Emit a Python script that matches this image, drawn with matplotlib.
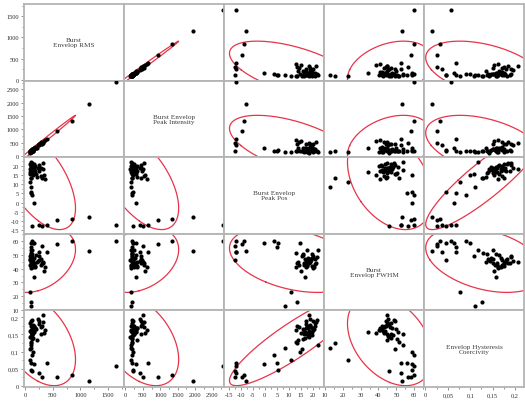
import matplotlib
matplotlib.use('Agg')
import matplotlib.pyplot as plt
from matplotlib.ticker import MultipleLocator, AutoMinorLocator, FuncFormatter
import numpy as np

labels = ["Burst\nEnvelop RMS", "Burst Envelop\nPeak Intensity", "Burst Envelop\nPeak Pos",
          "Burst\nEnvelop FWHM", "Envelop Hysteresis\nCoercivity"]

rms = [1640, 1150, 840, 585, 400, 300, 250, 120,
       165, 125, 110, 115, 110, 95, 100, 365,
       165, 140, 100, 300, 280, 320, 260, 110, 90, 120, 130, 105, 95, 280,
       125, 110, 140, 160, 115, 135, 180, 330, 95, 170, 260, 145, 120, 200, 240,
       130, 105, 155, 90, 210, 125, 175, 100, 340, 135]
peak_int = [2790, 1940, 1330, 950, 660, 500, 420, 210,
            300, 200, 185, 215, 160, 150, 190, 610,
            300, 210, 200, 440, 520, 500, 470, 160, 190, 180, 250, 200, 130, 450,
            230, 170, 260, 250, 220, 200, 330, 520, 170, 270, 460, 220, 230, 300, 430,
            250, 150, 300, 180, 320, 190, 320, 190, 560, 200]
peak_pos = [-12.0, -8.0, -8.7, -9.5, -12.0, -12.5, -12.0, -12.5,
            -0.5, 4.0, 5.0, 5.5, 8.5, 11.0, 13.3, 12.9,
            16.7, 14.8, 13.2, 13.5, 14.2, 18.4, 17.0, 22.2, 15.5, 16.0, 17.5, 18.0, 18.5, 19.0,
            19.5, 20.0, 20.5, 21.0, 17.2, 18.8, 19.8, 21.5, 16.5, 18.2, 20.3, 17.8, 19.2, 15.8, 19.0,
            16.2, 17.6, 18.6, 20.8, 14.0, 21.8, 17.4, 19.6, 15.0, 16.9]
fwhm = [60.0, 53.0, 60.0, 58.0, 52.5, 56.5, 52.5, 46.0,
        58.5, 60.0, 56.0, 59.0, 12.7, 23.0, 15.4, 41.0,
        34.0, 59.0, 51.6, 44.0, 43.0, 45.0, 46.0, 54.0, 49.5, 50.6, 53.5, 45.5, 46.0, 47.0,
        48.0, 40.5, 41.5, 43.5, 44.0, 45.0, 42.0, 44.5, 42.5, 47.5, 49.0, 43.0, 46.5, 50.0, 45.5,
        44.5, 42.0, 43.8, 46.8, 44.8, 48.5, 41.0, 51.0, 38.5, 47.2]
coerc = [0.058, 0.015, 0.033, 0.026, 0.068, 0.025, 0.037, 0.045,
         0.065, 0.090, 0.068, 0.046, 0.110, 0.077, 0.126, 0.163,
         0.157, 0.100, 0.128, 0.175, 0.172, 0.207, 0.180, 0.118, 0.108, 0.138, 0.150, 0.145, 0.142, 0.150,
         0.147, 0.163, 0.165, 0.175, 0.188, 0.178, 0.170, 0.185, 0.160, 0.168, 0.190, 0.155, 0.172, 0.165, 0.195,
         0.150, 0.176, 0.160, 0.183, 0.135, 0.192, 0.168, 0.158, 0.153, 0.140]

cols = [np.array(c, dtype=float) for c in (rms, peak_int, peak_pos, fwhm, coerc)]
limits = [(-20, 1790), (-40, 2830), (-17, 24.7), (9.5, 65.5), (-0.003, 0.22)]
steps = [500, 500, 5, 10, 0.05]

plt.rcParams['font.family'] = 'Liberation Serif'


def comma(v, pos):
    return ('%g' % round(v, 6)).replace('.', ',')


def ellipse(x, y, scale=6.4, n=240):
    # 95% density ellipse (F-based scale for ~55 rows)
    m = np.array([x.mean(), y.mean()])
    cov = np.cov(x, y)
    vals, vecs = np.linalg.eigh(cov)
    t = np.linspace(0, 2 * np.pi, n)
    circ = np.vstack([np.cos(t), np.sin(t)])
    pts = vecs @ (np.sqrt(vals * scale)[:, None] * circ)
    return pts[0] + m[0], pts[1] + m[1]


fig, axes = plt.subplots(5, 5, figsize=(5.25, 4.06), dpi=100,
                         gridspec_kw=dict(wspace=0, hspace=0))
fig.subplots_adjust(left=24/525, right=524/525, bottom=18/406, top=401/406)

for i in range(5):
    for j in range(5):
        ax = axes[i, j]
        ax.set_xlim(limits[j])
        ax.set_ylim(limits[i])
        for s in ax.spines.values():
            s.set_color('#b4b4b4')
            s.set_linewidth(1.3)
        ax.xaxis.set_major_locator(MultipleLocator(steps[j]))
        ax.yaxis.set_major_locator(MultipleLocator(steps[i]))
        ax.xaxis.set_minor_locator(AutoMinorLocator(2))
        ax.yaxis.set_minor_locator(AutoMinorLocator(2))
        ax.xaxis.set_major_formatter(FuncFormatter(comma))
        ax.yaxis.set_major_formatter(FuncFormatter(comma))
        ax.tick_params(which='both', color='#808080', width=0.6, labelsize=4.6,
                       labelcolor='#303030', pad=1.2)
        ax.tick_params(which='major', length=2.5)
        ax.tick_params(which='minor', length=1.3)
        ax.tick_params(left=(j == 0), labelleft=(j == 0),
                       bottom=(i == 4), labelbottom=(i == 4))
        ax.tick_params(which='minor', left=(j == 0), bottom=(i == 4))

        if i == j:
            ax.text(0.5, 0.5, labels[i], transform=ax.transAxes, ha='center',
                    va='center', fontsize=5.2, color='#404040', linespacing=1.0)
            continue
        ex, ey = ellipse(cols[j], cols[i])
        ax.plot(ex, ey, color='#e8344a', lw=0.9)
        ax.scatter(cols[j], cols[i], s=9, color='black', zorder=3, clip_on=True,
                   linewidths=0)

fig.savefig('out.png', dpi=100)
